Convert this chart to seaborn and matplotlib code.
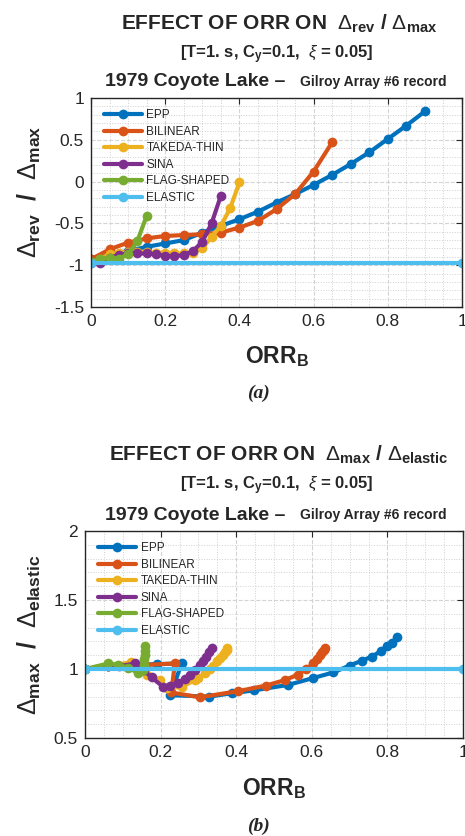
import numpy as np
import pandas as pd
import matplotlib
matplotlib.use("Agg")
import matplotlib.pyplot as plt
import seaborn as sns
from matplotlib.ticker import MultipleLocator

# ---- data (a): ORR_B vs drev/dmax ----
orr_epp_a = [0, 0.05, 0.10, 0.15, 0.20, 0.25, 0.30, 0.35, 0.40, 0.45, 0.50, 0.55, 0.60,
             0.65, 0.70, 0.75, 0.80, 0.85, 0.90]
rev_epp = [-0.92, -0.87, -0.83, -0.78, -0.74, -0.70, -0.61, -0.53, -0.45, -0.36, -0.25,
           -0.15, -0.04, 0.08, 0.21, 0.35, 0.51, 0.67, 0.84]
orr_bil_a = [0, 0.05, 0.10, 0.15, 0.20, 0.25, 0.30, 0.35, 0.40, 0.45, 0.50, 0.55, 0.60, 0.65]
rev_bil = [-0.93, -0.81, -0.73, -0.68, -0.65, -0.64, -0.63, -0.61, -0.55, -0.47, -0.33,
           -0.15, 0.12, 0.47]
orr_tak_a = [0, 0.025, 0.05, 0.075, 0.10, 0.125, 0.15, 0.175, 0.20, 0.225, 0.25, 0.275,
             0.30, 0.325, 0.35, 0.375, 0.40]
rev_tak = [-0.96, -0.92, -0.87, -0.85, -0.84, -0.84, -0.84, -0.85, -0.85, -0.86, -0.86,
           -0.85, -0.80, -0.66, -0.53, -0.32, -0.01]
orr_sina_a = [0, 0.025, 0.05, 0.075, 0.10, 0.125, 0.15, 0.175, 0.20, 0.225, 0.25, 0.275,
              0.30, 0.325, 0.35]
rev_sina = [-0.97, -0.97, -0.91, -0.88, -0.86, -0.86, -0.86, -0.87, -0.89, -0.89, -0.88,
            -0.83, -0.72, -0.50, -0.17]
orr_flag_a = [0, 0.025, 0.05, 0.075, 0.10, 0.125, 0.15]
rev_flag = [-0.96, -0.92, -0.91, -0.92, -0.87, -0.71, -0.41]
orr_el_a = [0, 1]
rev_el = [-0.97, -0.97]

# ---- data (b): ORR_B vs dmax/delastic ----
orr_epp_b = [0, 0.06, 0.128, 0.19, 0.256, 0.225, 0.329, 0.39, 0.447, 0.538, 0.604, 0.657,
             0.70, 0.732, 0.759, 0.783, 0.80, 0.812, 0.825]
max_epp = [1.0, 1.02, 1.03, 1.035, 1.04, 0.81, 0.80, 0.825, 0.845, 0.885, 0.935, 0.975,
           1.025, 1.06, 1.09, 1.13, 1.17, 1.19, 1.23]
orr_bil_b = [0, 0.06, 0.128, 0.159, 0.238, 0.228, 0.304, 0.406, 0.479, 0.529, 0.564, 0.585,
             0.604, 0.615, 0.622, 0.628, 0.632, 0.635]
max_bil = [1.0, 1.02, 1.03, 1.03, 1.04, 0.83, 0.795, 0.84, 0.88, 0.92, 0.96, 1.0, 1.04,
           1.07, 1.10, 1.12, 1.14, 1.15]
orr_tak_b = [0, 0.06, 0.123, 0.163, 0.198, 0.216, 0.256, 0.291, 0.30, 0.317, 0.33, 0.339,
             0.35, 0.357, 0.366, 0.37, 0.375, 0.376]
max_tak = [1.0, 1.02, 1.05, 0.96, 0.92, 0.86, 0.87, 0.92, 0.935, 0.97, 1.0, 1.02, 1.06,
           1.08, 1.10, 1.12, 1.14, 1.15]
orr_sina_b = [0, 0.06, 0.09, 0.132, 0.155, 0.176, 0.207, 0.225, 0.247, 0.265, 0.278, 0.29,
              0.304, 0.312, 0.32, 0.328, 0.335]
max_sina = [1.0, 1.02, 1.02, 1.04, 0.99, 0.94, 0.87, 0.88, 0.90, 0.93, 0.96, 0.99, 1.03,
            1.06, 1.09, 1.12, 1.15]
orr_flag_b = [0, 0.062, 0.088, 0.115, 0.14, 0.154, 0.156, 0.157, 0.158, 0.159, 0.159]
max_flag = [1.0, 1.04, 1.03, 1.01, 0.97, 0.99, 1.03, 1.07, 1.10, 1.13, 1.17]
orr_el_b = [0, 1]
max_el = [1.0, 1.0]

names = ["EPP", "BILINEAR", "TAKEDA-THIN", "SINA", "FLAG-SHAPED", "ELASTIC"]
colors = ["#0072BD", "#D95319", "#EDB120", "#7E2F8E", "#77AC30", "#4DBEEE"]

series_a = [(orr_epp_a, rev_epp), (orr_bil_a, rev_bil), (orr_tak_a, rev_tak),
            (orr_sina_a, rev_sina), (orr_flag_a, rev_flag), (orr_el_a, rev_el)]
series_b = [(orr_epp_b, max_epp), (orr_bil_b, max_bil), (orr_tak_b, max_tak),
            (orr_sina_b, max_sina), (orr_flag_b, max_flag), (orr_el_b, max_el)]

sns.set_style("white")
plt.rcParams["font.family"] = ["Liberation Sans", "DejaVu Sans"]
plt.rcParams["mathtext.fontset"] = "custom"
plt.rcParams["mathtext.rm"] = "Liberation Sans"
plt.rcParams["mathtext.bf"] = "Liberation Sans:bold"
plt.rcParams["mathtext.it"] = "Liberation Sans:italic"

W, H = 465, 836
fig = plt.figure(figsize=(W / 100, H / 100), dpi=100)


def px(x, y):
    return x / W, 1 - y / H


def draw_panel(rect, series, ylim, yminor):
    ax = fig.add_axes(rect)
    for (xs, ys), name, c in zip(series, names, colors):
        df = pd.DataFrame({"orr": xs, "val": ys})
        sns.lineplot(data=df, x="orr", y="val", ax=ax, sort=False, estimator=None,
                     color=c, linewidth=3.0, marker="o", markersize=7,
                     markeredgewidth=0, label=name)
    ax.set_xlim(0, 1)
    ax.set_ylim(*ylim)
    ax.xaxis.set_major_locator(MultipleLocator(0.2))
    ax.xaxis.set_minor_locator(MultipleLocator(0.05))
    ax.yaxis.set_major_locator(MultipleLocator(0.5))
    ax.yaxis.set_minor_locator(MultipleLocator(yminor))
    ax.xaxis.set_major_formatter(plt.FuncFormatter(lambda v, p: f"{v:g}"))
    ax.yaxis.set_major_formatter(plt.FuncFormatter(lambda v, p: f"{v:g}"))
    ax.grid(which="major", linestyle="--", color="#d4d4d4", linewidth=0.8)
    ax.grid(which="minor", linestyle=":", color="#cfcfcf", linewidth=0.7)
    ax.set_axisbelow(True)
    ax.tick_params(which="major", direction="in", top=True, right=True, length=4,
                   width=0.8, labelsize=12.5, colors="#262626", pad=5)
    ax.tick_params(which="minor", direction="in", top=False, right=False, length=0)
    for s in ax.spines.values():
        s.set_color("#262626")
        s.set_linewidth(1.0)
    ax.set_xlabel("")
    ax.set_ylabel("")
    ax.legend(loc="upper left", bbox_to_anchor=(0.035, 0.945), frameon=False,
              fontsize=8.5, handlelength=3.2, handletextpad=0.4, labelspacing=0.38,
              borderpad=0, borderaxespad=0)
    return ax


def titles(y1, y2, y3, main):
    fig.text(*px(279, y1), main, ha="center", va="center", fontsize=15, fontweight="bold")
    fig.text(*px(277, y2), r"[T=1. s, C$_{\mathbf{y}}$=0.1,  $\xi$ = 0.05]",
             ha="center", va="center", fontsize=12, fontweight="bold")
    fig.text(*px(285, y3), "1979 Coyote Lake \u2013", ha="right", va="center",
             fontsize=14, fontweight="bold")
    fig.text(*px(300, y3), "Gilroy Array #6 record", ha="left", va="center",
             fontsize=10, fontweight="bold")


# panel (a)
axa = draw_panel([91 / W, 1 - 307 / H, 371 / W, 209 / H], series_a, (-1.5, 1), 0.1)
titles(24, 55, 82, r"EFFECT OF ORR ON  $\Delta_{\mathbf{rev}}$ / $\Delta_{\mathbf{max}}$")
fig.text(*px(29, 192), r"$\Delta_{\mathbf{rev}}$  /  $\Delta_{\mathbf{max}}$", rotation=90,
         ha="center", va="center", fontsize=18, fontweight="bold")
fig.text(*px(277, 357), r"ORR$_{\mathbf{B}}$", ha="center", va="center",
         fontsize=16.5, fontweight="bold")
fig.text(*px(258, 393), "(a)", ha="center", va="center", fontsize=14,
         family="Liberation Serif", style="italic", fontweight="bold")

# panel (b)
axb = draw_panel([85 / W, 1 - 738 / H, 378 / W, 207 / H], series_b, (0.5, 2), 0.1)
titles(455, 486, 515, r"EFFECT OF ORR ON  $\Delta_{\mathbf{max}}$ / $\Delta_{\mathbf{elastic}}$")
fig.text(*px(29, 635), r"$\Delta_{\mathbf{max}}$  /  $\Delta_{\mathbf{elastic}}$", rotation=90,
         ha="center", va="center", fontsize=18, fontweight="bold")
fig.text(*px(274, 789), r"ORR$_{\mathbf{B}}$", ha="center", va="center",
         fontsize=16.5, fontweight="bold")
fig.text(*px(258, 826), "(b)", ha="center", va="center", fontsize=14,
         family="Liberation Serif", style="italic", fontweight="bold")

fig.savefig("out.png", dpi=100)
